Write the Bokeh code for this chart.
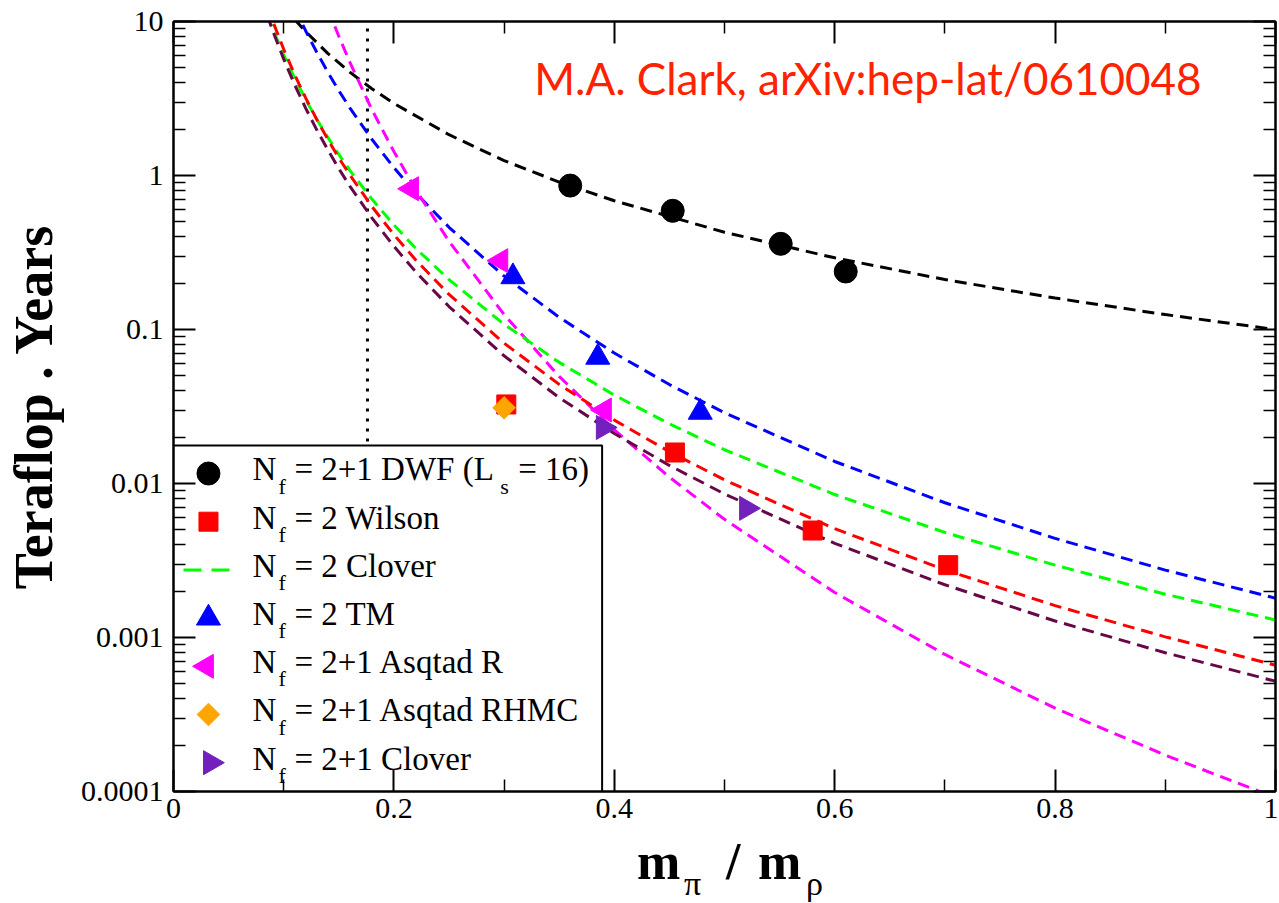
import math
from bokeh.plotting import figure
from bokeh.layouts import column
from bokeh.models import (Range1d, LinearScale, LinearAxis, LogAxis, FixedTicker,
                          CustomJSTickFormatter, CustomLabelingPolicy, Label)
from bokeh.embed import file_html
from bokeh.resources import INLINE

# ---------------- data ----------------
x_ticks = [0.0, 0.2, 0.4, 0.6, 0.8, 1.0]
x_tick_labels = ["0", "0.2", "0.4", "0.6", "0.8", "1"]
y_ticks = [1e-4, 1e-3, 1e-2, 1e-1, 1.0, 10.0]
y_tick_labels = ["0.0001", "0.001", "0.01", "0.1", "1", "10"]

x_label_parts = ["m", "\u03c0", "/", "m", "\u03c1"]
y_label = "Teraflop . Years"
credit = "M.A. Clark, arXiv:hep-lat/0610048"

# physical point m_pi/m_rho (dotted line)
phys_x = 0.176

# dashed fit curves
dwf_curve_x = [0.11, 0.12, 0.14, 0.16, 0.18, 0.2, 0.25, 0.3, 0.35, 0.4, 0.5, 0.6, 0.7, 0.8, 0.9, 1.0]
dwf_curve_y = [10.3, 8.59, 6.21, 4.69, 3.66, 2.94, 1.84, 1.25, 0.906, 0.686, 0.428, 0.292, 0.211, 0.160, 0.125, 0.1]

tm_curve_x = [0.11, 0.12, 0.13, 0.14, 0.15, 0.16, 0.18, 0.2, 0.22, 0.25, 0.3, 0.35, 0.4, 0.45, 0.5, 0.6, 0.7, 0.8, 0.9, 1.0]
tm_curve_y = [12.3, 8.68, 6.31, 4.69, 3.56, 2.75, 1.72, 1.125, 0.768, 0.461, 0.222, 0.120, 0.0703, 0.0439,
              0.0288, 0.0139, 0.0075, 0.0044, 0.00274, 0.0018]

wil_curve_x = [0.085, 0.09, 0.1, 0.11, 0.12, 0.13, 0.14, 0.15, 0.16, 0.18, 0.2, 0.22, 0.25, 0.3, 0.35, 0.4,
               0.45, 0.5, 0.6, 0.7, 0.8, 0.9, 1.0]
wil_curve_y = [12.6, 10.07, 6.6, 4.51, 3.18, 2.31, 1.72, 1.30, 1.01, 0.629, 0.413, 0.282, 0.169, 0.0815,
               0.0440, 0.0258, 0.0161, 0.01055, 0.00509, 0.00275, 0.00161, 0.00101, 0.00066]

clv_curve_x = wil_curve_x
clv_curve_y = [11.0, 8.95, 6.08, 4.29, 3.11, 2.32, 1.77, 1.37, 1.08, 0.703, 0.477, 0.336, 0.211, 0.108,
               0.0612, 0.0375, 0.0244, 0.01656, 0.00848, 0.00481, 0.00295, 0.00191, 0.0013]

c21_curve_x = wil_curve_x
c21_curve_y = [11.0, 8.73, 5.70, 3.88, 2.73, 1.98, 1.47, 1.11, 0.853, 0.531, 0.347, 0.236, 0.141, 0.0675,
               0.0361, 0.0211, 0.0131, 0.00855, 0.00409, 0.00220, 0.00128, 0.000796, 0.00052]

asq_curve_x = [0.14, 0.15, 0.16, 0.18, 0.2, 0.22, 0.25, 0.3, 0.35, 0.4, 0.45, 0.5, 0.6, 0.7, 0.8, 0.9, 1.0]
asq_curve_y = [12.1, 8.02, 5.44, 2.68, 1.43, 0.806, 0.374, 0.125, 0.0496, 0.0223, 0.0110, 0.00585,
               0.00196, 0.000776, 0.000348, 0.000172, 0.0000914]

# measured points
dwf_x = [0.36, 0.453, 0.551, 0.61]
dwf_y = [0.86, 0.59, 0.36, 0.238]
wil_x = [0.302, 0.455, 0.58, 0.703]
wil_y = [0.0326, 0.0159, 0.00495, 0.00295]
tm_x = [0.308, 0.385, 0.478]
tm_y = [0.22, 0.066, 0.029]
asq_x = [0.216, 0.297, 0.391]
asq_y = [0.82, 0.28, 0.030]
rhmc_x = [0.3]
rhmc_y = [0.031]
c21_x = [0.39, 0.52]
c21_y = [0.0231, 0.0069]

legend_rows = [
    ["= 2+1 DWF (L", "s", "= 16)"],
    ["= 2 Wilson"],
    ["= 2 Clover"],
    ["= 2 TM"],
    ["= 2+1 Asqtad R"],
    ["= 2+1 Asqtad RHMC"],
    ["= 2+1 Clover"],
]

# ---------------- styles ----------------
BLACK = "#000000"
RED = "#ff0000"
GREEN = "#00ff00"
BLUE = "#0000ff"
MAGENTA = "#ff00ff"
ORANGE = "#ffa500"
INDIGO = "#7221bc"
MAROON = "#670748"
CREDIT = "#ff2200"
SERIF = "Liberation Serif"
DASH = "12 7"

W = 1278
FW, FH = 1103, 770  # frame size in px
PH = 832            # main figure height
QH = 71             # x-title strip height

p = figure(width=W, height=PH, x_range=Range1d(0, 1), y_range=Range1d(1e-4, 10),
           y_axis_type="log", output_backend="svg", toolbar_location=None,
           min_border_left=172, min_border_right=3, min_border_top=21, min_border_bottom=PH - 21 - FH)
p.extra_x_ranges = {"px": Range1d(0, FW)}
p.extra_y_ranges = {"px": Range1d(0, FH)}
p.extra_x_scales = {"px": LinearScale()}
p.extra_y_scales = {"px": LinearScale()}

p.grid.visible = False
p.outline_line_color = "black"
p.outline_line_width = 2
p.background_fill_color = "white"
p.border_fill_color = "white"

x_minor = [(a + b) / 2 for a, b in zip(x_ticks[:-1], x_ticks[1:])]
y_minor = [m * t for t in y_ticks[:-1] for m in range(2, 10)]

xfmt = CustomJSTickFormatter(args=dict(tvals=x_ticks, tlabs=x_tick_labels), code="""
let bi = 0, bd = Infinity;
for (let i = 0; i < tvals.length; i++) { const d = Math.abs(tick - tvals[i]); if (d < bd) { bd = d; bi = i; } }
return tlabs[bi];
""")
yfmt = CustomJSTickFormatter(args=dict(tvals=y_ticks, tlabs=y_tick_labels), code="""
let bi = 0, bd = Infinity;
for (let i = 0; i < tvals.length; i++) { const d = Math.abs(Math.log10(tick) - Math.log10(tvals[i])); if (d < bd) { bd = d; bi = i; } }
return tlabs[bi];
""")
no_labels = CustomLabelingPolicy(code="""
for (const i of indices) { indices.unset(i) }
return indices
""")


def style_axis(ax, show_labels):
    ax.axis_line_width = 2
    ax.axis_line_color = "black"
    ax.major_tick_line_width = 2
    ax.minor_tick_line_width = 1.5
    ax.major_tick_in = 22
    ax.major_tick_out = 0
    ax.minor_tick_in = 12
    ax.minor_tick_out = 0
    if show_labels:
        ax.major_label_text_font = SERIF
        ax.major_label_text_font_style = "normal"
        ax.major_label_text_font_size = "30px"
        ax.major_label_text_color = "black"
    else:
        ax.major_label_policy = no_labels
        ax.major_label_text_font_size = "0px"
        ax.major_label_standoff = 0


xa = p.xaxis[0]
xa.ticker = FixedTicker(ticks=x_ticks, minor_ticks=x_minor)
xa.formatter = xfmt
style_axis(xa, True)
xa.major_label_standoff = 7

ya = p.yaxis[0]
ya.ticker = FixedTicker(ticks=y_ticks, minor_ticks=y_minor)
ya.formatter = yfmt
style_axis(ya, True)
ya.major_label_standoff = 10
ya.axis_label = y_label
ya.axis_label_text_font = SERIF
ya.axis_label_text_font_style = "bold"
ya.axis_label_text_font_size = "54px"
ya.axis_label_text_color = "black"
ya.axis_label_standoff = 14

top = LinearAxis(ticker=FixedTicker(ticks=x_ticks, minor_ticks=x_minor), formatter=xfmt)
style_axis(top, False)
p.add_layout(top, "above")
right = LogAxis(ticker=FixedTicker(ticks=y_ticks, minor_ticks=y_minor), formatter=yfmt)
style_axis(right, False)
p.add_layout(right, "right")

# dotted physical point line
p.line([phys_x, phys_x], [y_ticks[0], y_ticks[-1]], line_color=BLACK, line_width=3, line_dash="3 7")

# curves
p.line(dwf_curve_x, dwf_curve_y, line_color=BLACK, line_width=3, line_dash=DASH)
p.line(tm_curve_x, tm_curve_y, line_color=BLUE, line_width=3, line_dash=DASH)
p.line(asq_curve_x, asq_curve_y, line_color=MAGENTA, line_width=3, line_dash=DASH)
p.line(clv_curve_x, clv_curve_y, line_color=GREEN, line_width=3, line_dash=DASH)
p.line(c21_curve_x, c21_curve_y, line_color=MAROON, line_width=3, line_dash=DASH)
p.line(wil_curve_x, wil_curve_y, line_color=RED, line_width=3, line_dash=DASH)

# points
p.scatter(dwf_x, dwf_y, marker="circle", size=23, color=BLACK)
p.scatter(wil_x, wil_y, marker="square", size=19, color=RED)
p.scatter(rhmc_x, rhmc_y, marker="square", size=16, angle=math.pi / 4, color=ORANGE)
p.scatter(tm_x, tm_y, marker="triangle", size=24, color=BLUE)
p.scatter(asq_x, asq_y, marker="triangle", size=24, angle=math.pi / 2, color=MAGENTA)
p.scatter(c21_x, c21_y, marker="triangle", size=24, angle=-math.pi / 2, color=INDIGO)

# ---------------- legend (drawn by hand for subscripts) ----------------
LG = dict(x_range_name="px", y_range_name="px")
p.quad(left=0, right=429, bottom=0, top=346, fill_color="white", line_color="black", line_width=2, **LG)

row_c = [318 - 48.2 * i for i in range(7)]
mx = 35
p.scatter([mx], [row_c[0]], marker="circle", size=23, color=BLACK, **LG)
p.scatter([mx], [row_c[1]], marker="square", size=19, color=RED, **LG)
p.line([10, 57], [row_c[2], row_c[2]], line_color=GREEN, line_width=3, line_dash="18 10", **LG)
p.scatter([mx], [row_c[3]], marker="triangle", size=24, color=BLUE, **LG)
p.scatter([mx - 2], [row_c[4]], marker="triangle", size=24, angle=math.pi / 2, color=MAGENTA, **LG)
p.scatter([mx], [row_c[5]], marker="square", size=16, angle=math.pi / 4, color=ORANGE, **LG)
p.scatter([mx + 2], [row_c[6]], marker="triangle", size=24, angle=-math.pi / 2, color=INDIGO, **LG)


def lab(fig, x, y, text, size, ranges=True, **kw):
    opts = dict(x=x, y=y, text=text, text_font=SERIF, text_font_size=size, text_color="black",
                text_align="left", text_baseline="alphabetic")
    if ranges:
        opts.update(x_range_name="px", y_range_name="px")
    opts.update(kw)
    fig.add_layout(Label(**opts))


for i, parts in enumerate(legend_rows):
    ty = row_c[i] + 4.1
    lab(p, 79, ty, "N", "33px")
    lab(p, 105, ty - 16.7, "f", "22px")
    lab(p, 121, ty, parts[0], "33px")
    if len(parts) > 1:
        lab(p, 327, ty - 16.7, parts[1], "22px")
        lab(p, 345, ty, parts[2], "33px")

# credit text
lab(p, 361, 714, credit, "44px", text_font="Lato", text_color=CREDIT)

# ---------------- x-axis title strip (for subscripts); its frame aligns with the main frame ----------------
q = figure(width=W, height=QH, x_range=Range1d(0, FW), y_range=Range1d(0, QH),
           output_backend="svg", toolbar_location=None, x_axis_location=None, y_axis_location=None,
           min_border_left=172, min_border_right=3, min_border_top=0, min_border_bottom=0)
q.outline_line_color = None
q.grid.visible = False
q.background_fill_color = "white"
q.border_fill_color = "white"

lab(q, 464, 42, x_label_parts[0], "52px", ranges=False, text_font_style="bold")
lab(q, 511, 20.5, x_label_parts[1], "34px", ranges=False)
lab(q, 553, 42, x_label_parts[2], "52px", ranges=False, text_font_style="bold")
lab(q, 585, 42, x_label_parts[3], "52px", ranges=False, text_font_style="bold")
lab(q, 633, 20.5, x_label_parts[4], "34px", ranges=False)

layout = column(p, q, spacing=0)
open("out.html", "w").write(file_html(layout, INLINE))
